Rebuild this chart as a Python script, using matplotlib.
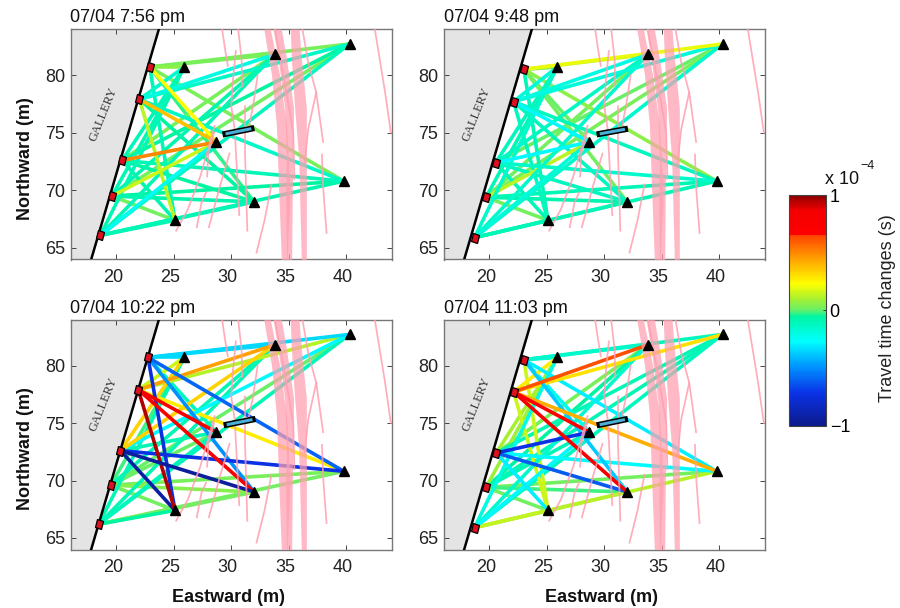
import matplotlib
matplotlib.use("Agg")
import matplotlib.pyplot as plt
from matplotlib.colors import LinearSegmentedColormap, Normalize
from matplotlib.cm import ScalarMappable
from matplotlib.markers import MarkerStyle
from matplotlib.transforms import Affine2D, ScaledTranslation

plt.rcParams['font.family'] = ['Liberation Sans', 'DejaVu Sans']

titles = ["07/04 7:56 pm", "07/04 9:48 pm", "07/04 10:22 pm", "07/04 11:03 pm"]

receivers_x = [25.9, 33.8, 40.3, 28.7, 39.8, 32.0, 25.1]
receivers_y = [80.7, 81.8, 82.7, 74.2, 70.8, 69.0, 67.4]

sources_x = [[22.9, 22.0, 20.5, 19.6, 18.6],
             [23.0, 22.1, 20.55, 19.7, 18.7],
             [22.75, 21.9, 20.35, 19.5, 18.45],
             [23.0, 22.1, 20.6, 19.7, 18.7]]
sources_y = [[80.7, 77.9, 72.6, 69.5, 66.1],
             [80.5, 77.7, 72.4, 69.4, 65.9],
             [80.7, 77.9, 72.6, 69.6, 66.2],
             [80.5, 77.7, 72.4, 69.4, 65.9]]

# Travel time changes (x 1e-4 s): rows = sources, columns = receivers
changes_1 = [[0.06, 0.03, 0.03, 0.24, 0.03, -0.03, -0.10],
             [-0.15, -0.20, -0.14, 0.38, -0.14, -0.05, 0.13],
             [-0.10, 0.03, -0.05, 0.50, -0.10, -0.05, -0.08],
             [-0.10, -0.08, 0.02, 0.15, -0.05, -0.08, 0.02],
             [-0.10, -0.10, -0.12, -0.25, -0.08, -0.10, -0.08]]
changes_2 = [[0.02, 0.12, 0.20, 0.00, 0.06, 0.02, -0.10],
             [-0.18, -0.20, -0.18, -0.28, -0.12, -0.12, -0.12],
             [-0.12, -0.13, 0.00, -0.28, -0.15, -0.12, -0.10],
             [-0.10, 0.02, 0.03, 0.13, -0.10, -0.08, 0.02],
             [-0.15, -0.15, -0.15, -0.18, -0.10, -0.10, -0.10]]
changes_3 = [[-0.35, -0.35, -0.35, -0.12, -0.60, -0.50, -0.75],
             [0.15, 0.45, 0.12, 0.80, 0.27, 0.80, 0.95],
             [0.33, 0.33, -0.28, -0.10, -0.72, -0.95, -0.93],
             [-0.02, -0.10, 0.00, 0.00, 0.03, 0.05, 0.02],
             [-0.10, -0.10, -0.10, -0.12, 0.02, 0.02, -0.05]]
changes_4 = [[-0.15, -0.15, -0.12, -0.22, -0.30, -0.38, 0.15],
             [0.27, 0.62, 0.30, 0.70, 0.42, 0.80, 0.15],
             [0.10, 0.03, -0.10, -0.72, -0.28, -0.62, -0.30],
             [0.08, -0.05, -0.10, -0.10, 0.02, -0.02, 0.02],
             [-0.20, -0.15, -0.12, -0.28, 0.12, 0.12, 0.14]]
changes = [changes_1, changes_2, changes_3, changes_4]

wall_x = [17.8, 23.7]
wall_y = [64, 84]

tube_x = [[29.5, 31.75], [29.6, 31.8], [29.6, 31.85], [29.6, 31.8]]
tube_y = [[74.9, 75.35], [74.9, 75.3], [74.85, 75.3], [74.85, 75.3]]

# Wide fracture zones: northing, west edge, east edge
band_a = ([84, 80.05, 75.7, 69.9, 64], [32.83, 33.5, 33.93, 34.13, 34.36], [33.4, 34.2, 34.8, 35.14, 34.86])
band_b = ([84, 81.5, 77.15, 72.8, 69.9, 64], [33.64, 34.07, 34.65, 34.8, 34.74, 34.8], [34.36, 34.8, 35.43, 35.38, 35.32, 35.26])
band_c = ([84, 81.5, 77.15, 72.8, 64], [35.14, 35.23, 35.52, 35.87, 36.1], [35.9, 36.1, 36.54, 36.54, 36.54])
bands = [band_a, band_b, band_c]

thin_fractures = [
    ([29.2, 29.5, 29.7], [84, 82, 80.8]),
    ([30.6, 30.9, 30.95], [84, 81.4, 79]),
    ([30.4, 30.15, 30.0, 30.3, 30.7], [82.1, 79.6, 77.3, 75.3, 67.85]),
    ([31.2, 31.2, 31.4], [77.3, 73.2, 66.5]),
    ([32.3, 31.9, 31.45], [80, 77.3, 75.1]),
    ([29.85, 29.0, 28.05], [73.2, 70.3, 66.8]),
    ([28.55, 27.3, 26.2, 25.2], [75.6, 71.2, 68.3, 66.5]),
    ([27.9, 28.0, 28.5], [71.2, 73.2, 75.0]),
    ([27.0, 27.4, 27.8], [66.8, 68.9, 69.8]),
    ([33.5, 32.9, 32.2], [70.5, 67.4, 64.6]),
    ([36.2, 36.7, 37.4, 38.0], [84, 81.1, 78.5, 74.2]),
    ([37.4, 36.7, 36.4], [78.5, 75.3, 72.4]),
    ([37.9, 38.0, 38.3], [73.1, 70.3, 66.3]),
    ([42.5, 43.4, 43.9], [84, 78.5, 75]),
    ([33.8, 34.8, 35.4, 35.5], [84, 78.5, 75.0, 71.0]),
]

bar_stops = [(0.00, "#0c1a8c"), (0.14, "#0a32e6"), (0.25, "#0090ff"), (0.365, "#00ffff"),
             (0.475, "#00f5a0"), (0.50, "#66f06a"), (0.55, "#a8f030"), (0.615, "#ffff00"),
             (0.725, "#ffa000"), (0.829, "#ff4000"), (0.83, "#ff0000"), (0.935, "#f40000"),
             (1.00, "#8b0000")]
cmap = LinearSegmentedColormap.from_list("tt", bar_stops, N=256)
norm = Normalize(-1, 1)

W, H = 900, 608
fig = plt.figure(figsize=(9, 6.08), dpi=100)
boxes = [(70.5, 29, 392, 259.5), (443.5, 29, 765, 259.5),
         (70.5, 319.5, 392, 549.5), (443.5, 319.5, 765, 549.5)]
source_marker = MarkerStyle("s", transform=Affine2D().scale(0.75, 1.0).rotate_deg(-17))

for i, (l, t, r, b) in enumerate(boxes):
    ax = fig.add_axes([l / W, 1 - b / H, (r - l) / W, (b - t) / H])
    ax.set_xlim(16, 44)
    ax.set_ylim(64, 84)
    ax.fill_betweenx(wall_y, [16, 16], wall_x, color="#e4e4e4", lw=0, zorder=1)
    ax.plot(wall_x, wall_y, color="black", lw=1.8, zorder=6)

    rays = []
    for s in range(5):
        for k in range(7):
            rays.append((changes[i][s][k], s, k))
    rays.sort(key=lambda q: abs(q[0]))
    for v, s, k in rays:
        ax.plot([sources_x[i][s], receivers_x[k]], [sources_y[i][s], receivers_y[k]],
                color=cmap(norm(v)), lw=2.6, zorder=2, solid_capstyle="butt")

    for by, bw, be in bands:
        ax.fill_betweenx(by, bw, be, color="#ff9fb0", alpha=0.72, lw=0, zorder=3)
    for fx, fy in thin_fractures:
        ax.plot(fx, fy, color="#ff9fb0", lw=1.25, alpha=0.85, zorder=3)

    ax.plot(tube_x[i], tube_y[i], color="black", lw=4.4, zorder=7, solid_capstyle="projecting")
    ax.plot(tube_x[i], tube_y[i], color="#4aaed6", lw=2.2, zorder=8, solid_capstyle="butt")

    ax.plot(receivers_x, receivers_y, ls="none", marker="^", ms=6.8, color="black", zorder=9)
    ax.plot(sources_x[i], sources_y[i], ls="none", marker=source_marker, ms=5.6, mfc="#dd1020",
            mec="black", mew=0.9, zorder=9)

    ax.text(18.85, 76.6, "GALLERY", family=["Liberation Serif"], fontsize=9, rotation=68,
            ha="center", va="center", color="#333333", zorder=5)

    ax.set_xticks([20, 25, 30, 35, 40])
    ax.set_yticks([65, 70, 75, 80])
    ax.tick_params(direction="in", top=True, right=True, length=3.5, width=0.7,
                   color="#444444", labelsize=13, labelcolor="#222222")
    ax.tick_params(axis="x", pad=6.5)
    ax.tick_params(axis="y", pad=4)
    shift = ScaledTranslation(-3.5 / 100, 0, fig.dpi_scale_trans)
    for lab in ax.get_xticklabels():
        lab.set_transform(lab.get_transform() + shift)
    for sp in ax.spines.values():
        sp.set_color("#777777")
        sp.set_linewidth(1.0)
    ax.text(0, 1.012, titles[i], transform=ax.transAxes, fontsize=13, ha="left", va="bottom",
            color="#111111")
    if i % 2 == 0:
        fig.text(25 / W, 1 - (t + b + 28) / 2 / H, "Northward (m)", fontsize=13, fontweight="bold",
                 rotation=90, ha="center", va="center", color="#111111")
    if i >= 2:
        fig.text((l + r - 5) / 2 / W, 1 - 597 / H, "Eastward (m)", fontsize=13, fontweight="bold",
                 ha="center", va="center", color="#111111")

cax = fig.add_axes([788.5 / W, 1 - 425.5 / H, 37 / W, 230.5 / H])
cb = fig.colorbar(ScalarMappable(norm=norm, cmap=cmap), cax=cax)
cb.set_ticks([-1, 0, 1])
cb.set_ticklabels(["\u22121", "0", "1"])
cb.ax.tick_params(direction="in", length=2.5, width=0.7, labelsize=13, pad=3, color="#333333")
cb.outline.set_edgecolor("#444444")
cb.outline.set_linewidth(0.8)
fig.text(825 / W, 1 - 184 / H, "x 10", fontsize=13, ha="left", va="baseline", color="#111111")
fig.text(860 / W, 1 - 169 / H, "\u22124", fontsize=9, ha="left", va="baseline", color="#111111")
fig.text(888 / W, 1 - 308 / H, "Travel time changes (s)", fontsize=13, rotation=90,
         ha="center", va="center", color="#222222")

fig.savefig("out.png", dpi=100)
